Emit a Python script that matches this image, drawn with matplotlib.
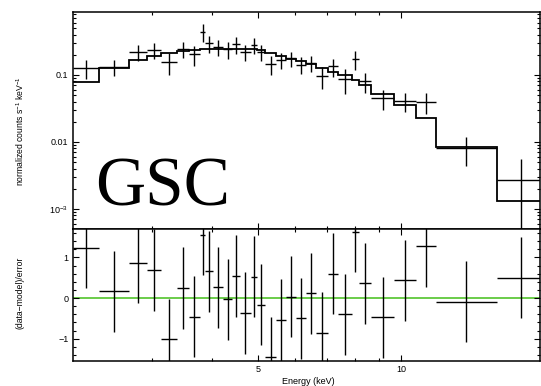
import numpy as np
import matplotlib
matplotlib.use("Agg")
import matplotlib.pyplot as plt
from matplotlib.ticker import FixedLocator, NullFormatter, LogLocator

# Energy bin edges (keV)
edges = [2.04, 2.32, 2.68, 2.93, 3.13, 3.38, 3.58, 3.78, 3.88, 4.03, 4.23,
         4.42, 4.58, 4.84, 4.98, 5.19, 5.47, 5.74, 6.02, 6.32, 6.62, 7.03,
         7.36, 7.88, 8.16, 8.67, 9.67, 10.77, 11.83, 15.88, 20.1]

# folded model (counts/s/keV)
model = [0.078, 0.127, 0.167, 0.191, 0.210, 0.229, 0.236, 0.240, 0.242, 0.243,
         0.244, 0.244, 0.243, 0.240, 0.232, 0.211, 0.192, 0.175, 0.162, 0.146,
         0.127, 0.110, 0.100, 0.084, 0.071, 0.052, 0.035, 0.0226, 0.0084, 0.0013]

# data and 1-sigma errors
data = [0.128, 0.133, 0.218, 0.234, 0.154, 0.245, 0.204, 0.443, 0.298, 0.261,
        0.242, 0.287, 0.221, 0.282, 0.222, 0.145, 0.168, 0.176, 0.142, 0.151,
        0.097, 0.134, 0.086, 0.174, 0.081, 0.045, 0.0406, 0.040, 0.0081, 0.0027]
err = [0.040, 0.035, 0.059, 0.064, 0.055, 0.065, 0.070, 0.130, 0.085, 0.070,
       0.070, 0.080, 0.060, 0.080, 0.060, 0.045, 0.045, 0.043, 0.040, 0.040,
       0.035, 0.040, 0.035, 0.055, 0.027, 0.015, 0.0128, 0.0137, 0.0037, 0.0028]

# residuals (data-model)/error
resid = [1.24, 0.17, 0.87, 0.69, -1.02, 0.25, -0.46, 1.56, 0.66, 0.26,
         -0.03, 0.54, -0.37, 0.53, -0.16, -1.46, -0.54, 0.03, -0.50, 0.12,
         -0.86, 0.60, -0.40, 1.63, 0.36, -0.47, 0.44, 1.28, -0.09, 0.50]

edges_a = np.array(edges)
lo, hi = edges_a[:-1], edges_a[1:]
mid = np.sqrt(lo * hi)
xerr = [mid - lo, hi - mid]

plt.rcParams["font.family"] = ["Liberation Sans", "DejaVu Sans"]
plt.rcParams["mathtext.default"] = "regular"

fig = plt.figure(figsize=(5.41, 3.86), dpi=100)
W, H = 541.0, 386.0
x0, x1 = 72.5, 540.0
ax1 = fig.add_axes([x0 / W, 1 - 229 / H, (x1 - x0) / W, 217 / H])
ax2 = fig.add_axes([x0 / W, 1 - 361 / H, (x1 - x0) / W, 132 / H])

# top panel: spectrum
ax1.stairs(model, edges, color="black", lw=1.3, baseline=None)
ax1.errorbar(mid, data, xerr=xerr, yerr=err, fmt="none", ecolor="black",
             elinewidth=1.0, capsize=0)
ax1.set_xscale("log")
ax1.set_yscale("log", nonpositive="clip")
ax1.set_xlim(2.04, 19.6)
ax1.set_ylim(5.0e-4, 0.87)
ax1.set_yticks([1e-3, 0.01, 0.1], ["$10^{-3}$", "0.01", "0.1"])
ax1.yaxis.set_minor_locator(LogLocator(base=10, subs=np.arange(2, 10)))
ax1.yaxis.set_minor_formatter(NullFormatter())
ax1.text(0.048, 0.11, "GSC", transform=ax1.transAxes, fontsize=50,
         family="Liberation Serif", ha="left", va="baseline")

# bottom panel: residuals
ax2.axhline(0, color="#5fc83c", lw=1.3, zorder=1)
ax2.errorbar(mid, resid, xerr=xerr, yerr=1.0, fmt="none", ecolor="black",
             elinewidth=1.0, capsize=0, zorder=2)
ax2.set_xscale("log")
ax2.set_xlim(2.04, 19.6)
ax2.set_ylim(-1.55, 1.7)
ax2.set_yticks([-1, 0, 1], ["\u22121", "0", "1"])
ax2.yaxis.set_minor_locator(FixedLocator(np.arange(-1.4, 1.7, 0.2)))

for ax in (ax1, ax2):
    ax.xaxis.set_major_locator(FixedLocator([5, 10]))
    ax.xaxis.set_minor_locator(FixedLocator([2, 3, 4, 6, 7, 8, 9]))
    ax.xaxis.set_minor_formatter(NullFormatter())
    ax.tick_params(which="both", direction="in", top=True, right=True,
                   labelsize=6.5, width=0.8, pad=3)
    ax.tick_params(which="major", length=4.5)
    ax.tick_params(which="minor", length=2.5)
    for s in ax.spines.values():
        s.set_linewidth(1.1)
ax1.tick_params(axis="x", which="both", labelbottom=False)
ax2.set_xticks([5, 10], ["5", "10"])

fig.text(20 / W, 1 - 131 / H, "normalized counts s$^{-1}$ keV$^{-1}$",
         rotation=90, ha="center", va="center", fontsize=6.2)
fig.text(20 / W, 1 - 293 / H, "(data\u2212model)/error",
         rotation=90, ha="center", va="center", fontsize=6.2)
fig.text(308 / W, 1 - 381 / H, "Energy (keV)", ha="center", va="center",
         fontsize=6.5)

fig.savefig("out.png", dpi=100)
